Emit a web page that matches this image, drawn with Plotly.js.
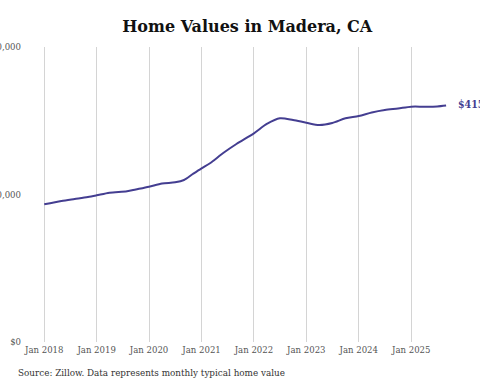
<!DOCTYPE html>
<html>
<head>
<meta charset="utf-8">
<script src="https://cdn.plot.ly/plotly-3.0.1.min.js"></script>
<style>html,body{margin:0;padding:0;background:#fff;}#chart{width:480px;height:384px;}</style>
</head>
<body>
<div id="chart"></div>
<script>
const dates = ["2018-01-01","2018-05-01","2018-08-01","2018-11-01","2019-01-01","2019-04-01","2019-08-01","2019-10-01","2020-01-01","2020-04-01","2020-07-01","2020-09-01","2020-11-01","2021-01-01","2021-03-01","2021-06-01","2021-09-01","2022-01-01","2022-04-01","2022-07-01","2022-10-01","2023-01-01","2023-04-01","2023-07-01","2023-10-01","2024-01-01","2024-04-01","2024-07-01","2024-10-01","2025-01-01","2025-04-01","2025-07-01","2025-09-01"];
const values = [233400,239000,242400,245800,248600,253000,255400,258500,263200,268600,270700,274600,284700,294400,302900,320300,335600,353700,369500,379200,376300,371700,367800,371200,379200,383000,389000,393200,395800,398800,398800,399200,400800];
const yTickVals = [0,250000,500000];
const yTickText = ["$0","$250,000","$500,000"];
const endLabel = "$415,000";
const title = "Home Values in Madera, CA";
const source = "Source: Zillow. Data represents monthly typical home value";

const serif = "DejaVu Serif, serif";
const serifC = "DejaVu Serif Condensed, DejaVu Serif, serif";
const trace = {
  x: dates, y: values, type: "scatter", mode: "lines",
  line: {color: "#443e91", width: 2, shape: "spline", smoothing: 0.8},
  hoverinfo: "skip"
};
const layout = {
  width: 480, height: 384,
  margin: {l: 24, r: 25, t: 47, b: 42},
  paper_bgcolor: "#fff", plot_bgcolor: "#fff",
  showlegend: false,
  title: {text: "<b>" + title + "</b>", font: {family: serif, size: 16, color: "#111"}, x: 0.515, xref: "container", y: 0.93, yref: "container", yanchor: "middle"},
  xaxis: {
    type: "date", range: ["2017-08-13","2025-11-02"],
    tick0: "2018-01-01", dtick: "M12", tickformat: "%b %Y", tickangle: 0,
    showgrid: true, gridcolor: "#d4d4d4", gridwidth: 1,
    zeroline: false, showline: false, ticks: "",
    tickfont: {family: serifC, size: 9.5, color: "#555"}
  },
  yaxis: {
    range: [0, 500000], tickvals: yTickVals, ticktext: yTickText,
    showgrid: false, zeroline: false, showline: false, ticks: "",
    ticklabelstandoff: 2,
    tickfont: {family: serifC, size: 9.5, color: "#555"}
  },
  annotations: [
    {x: dates[dates.length-1], y: values[values.length-1], xref: "x", yref: "y", text: "<b>" + endLabel + "</b>", showarrow: false, xanchor: "left", xshift: 10, yshift: 2, font: {family: serifC, size: 10.5, color: "#443e91"}},
    {x: 16, y: 373, xref: "paper", yref: "paper", text: source, showarrow: false, xanchor: "left", yanchor: "middle", font: {family: serifC, size: 9.8, color: "#333"}}
  ]
};
const pw = 480 - 24 - 25, ph = 384 - 47 - 42;
layout.annotations[1].x = (16 - 24) / pw;
layout.annotations[1].y = (384 - 42 - 373) / ph;
Plotly.newPlot("chart", [trace], layout, {staticPlot: true});
</script>
</body>
</html>
